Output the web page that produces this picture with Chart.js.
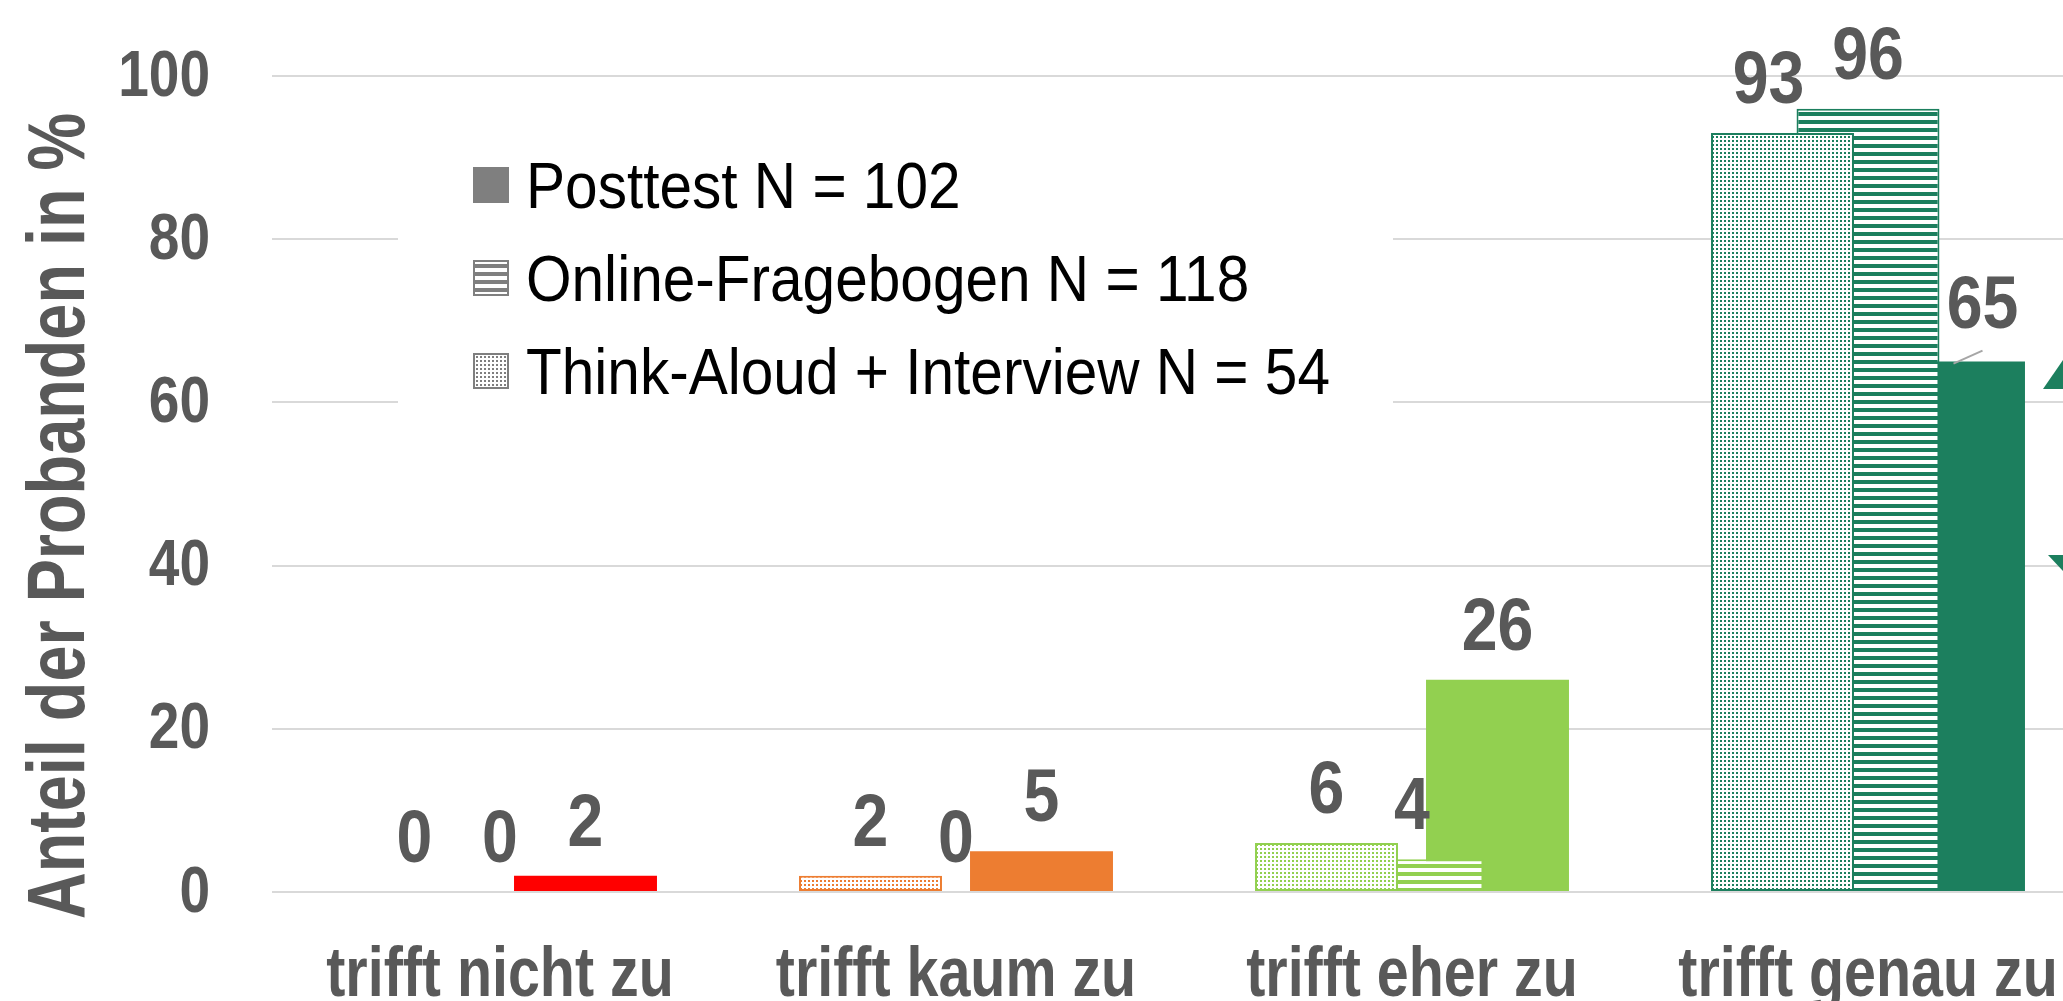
<!DOCTYPE html>
<html>
<head>
<meta charset="utf-8">
<script src="https://cdn.jsdelivr.net/npm/chart.js@4.4.0/dist/chart.umd.min.js"></script>
<style>
  html, body { margin: 0; padding: 0; background: #fff; overflow: hidden; }
  #wrap { position: relative; width: 2096px; height: 1001px; }
</style>
</head>
<body>
<div id="wrap"><canvas id="myChart"></canvas></div>
<script>
const categories = ['trifft nicht zu', 'trifft kaum zu', 'trifft eher zu', 'trifft genau zu'];
const seriesLabels = ['Posttest N = 102', 'Online-Fragebogen N = 118', 'Think-Aloud + Interview N = 54'];
const posttest = [2, 5, 26, 65];
const onlineFragebogen = [0, 0, 4, 96];
const thinkAloud = [0, 2, 6, 93];
const categoryColors = ['#FF0000', '#ED7D31', '#92D050', '#1C7F5E'];
const axisTitle = 'Anteil der Probanden in %';

const FONT = '"Liberation Sans", Arial, sans-serif';
const GREY_TEXT = '#595959';

// excel-like fill patterns
function stripes(color) {
  const c = document.createElement('canvas');
  c.width = 8; c.height = 8;
  const g = c.getContext('2d');
  g.fillStyle = '#fff'; g.fillRect(0, 0, 8, 8);
  g.fillStyle = color; g.fillRect(0, 0, 8, 4);
  return g.createPattern(c, 'repeat');
}
function dots(color) {
  const c = document.createElement('canvas');
  c.width = 4; c.height = 4;
  const g = c.getContext('2d');
  g.fillStyle = '#fff'; g.fillRect(0, 0, 4, 4);
  g.fillStyle = color;
  g.fillRect(0, 0, 2, 2);
  return g.createPattern(c, 'repeat');
}

// no narrow font installed, so squeeze the text horizontally
function narrowText(c, txt, x, y, font, sx, align, baseline) {
  c.save();
  c.translate(x, y);
  c.scale(sx, 1);
  c.font = font;
  c.textAlign = align;
  c.textBaseline = baseline;
  c.fillText(txt, 0, 0);
  c.restore();
}

const ctx = document.getElementById('myChart');

const axisText = {
  id: 'axisText',
  afterDraw(chart) {
    const c = chart.ctx;
    const xs = chart.scales.x, ys = chart.scales.y;
    c.save();
    c.fillStyle = GREY_TEXT;
    ys.ticks.forEach(t => {
      narrowText(c, String(t.value), 210, ys.getPixelForValue(t.value) + 2, 'bold 64px ' + FONT, 0.86, 'right', 'middle');
    });
    categories.forEach((lab, i) => {
      narrowText(c, lab, xs.getPixelForTick(i), 996, 'bold 70px ' + FONT, 0.82, 'center', 'alphabetic');
    });
    // y axis title
    c.translate(84, 516);
    c.rotate(-Math.PI / 2);
    narrowText(c, axisTitle, 0, 0, 'bold 82px ' + FONT, 0.79, 'center', 'alphabetic');
    c.restore();
  }
};

const legendBox = {
  id: 'legendBox',
  afterDraw(chart) {
    const c = chart.ctx;
    c.save();
    // white box over the grid
    c.fillStyle = '#fff';
    c.fillRect(398, 120, 995, 320);
    const swatches = ['#7F7F7F', stripes('#7F7F7F'), dots('#7F7F7F')];
    seriesLabels.forEach((txt, i) => {
      const top = 167 + i * 93;
      c.fillStyle = swatches[i];
      c.fillRect(473, top, 36, 36);
      if (i > 0) {
        c.strokeStyle = '#7F7F7F';
        c.lineWidth = 2;
        c.strokeRect(474, top + 1, 34, 34);
      }
      c.fillStyle = '#000';
      narrowText(c, txt, 526, top + 41, '64px ' + FONT, 0.915, 'left', 'alphabetic');
    });
    c.restore();

    // arrow pieces cut at right edge
    c.save();
    c.fillStyle = '#1C7F5E';
    c.beginPath();
    c.moveTo(2043, 389); c.lineTo(2063, 360); c.lineTo(2063, 389); c.closePath();
    c.fill();
    c.beginPath();
    c.moveTo(2048, 555); c.lineTo(2063, 555); c.lineTo(2063, 571); c.closePath();
    c.fill();
    c.restore();
  }
};

const valueLabels = {
  id: 'valueLabels',
  afterDatasetsDraw(chart) {
    const c = chart.ctx;
    c.save();
    c.fillStyle = GREY_TEXT;
    chart.data.datasets.forEach((ds, di) => {
      chart.getDatasetMeta(di).data.forEach((bar, i) => {
        let x = bar.x;
        let y = bar.y - 30;
        if (ds.label === seriesLabels[2] && i === 3) x -= 14;
        if (ds.label === seriesLabels[0] && i === 3) {
          x += 29; y -= 4;
          c.strokeStyle = '#A6A6A6';
          c.lineWidth = 2;
          c.beginPath();
          c.moveTo(bar.x, bar.y + 2);
          c.lineTo(x, y + 23);
          c.stroke();
        }
        narrowText(c, String(ds.data[i]), x, y, 'bold 74px ' + FONT, 0.87, 'center', 'alphabetic');
      });
    });
    c.restore();
  }
};

const myChart = new Chart(ctx, {
  type: 'bar',
  data: {
    labels: categories,
    datasets: [
      {
        label: seriesLabels[2],
        data: thinkAloud,
        order: 0,
        backgroundColor: categoryColors.map(dots),
        borderColor: categoryColors,
        borderWidth: 2,
        borderSkipped: false
      },
      {
        label: seriesLabels[1],
        data: onlineFragebogen,
        order: 1,
        backgroundColor: categoryColors.map(stripes),
        borderColor: categoryColors,
        borderWidth: 2,
        borderSkipped: false
      },
      {
        label: seriesLabels[0],
        data: posttest,
        order: 2,
        backgroundColor: categoryColors,
        borderWidth: 0
      }
    ]
  },
  options: {
    responsive: true,
    maintainAspectRatio: false,
    animation: false,
    categoryPercentage: 0.5625,
    barPercentage: 1.672,
    layout: { padding: { top: 76, right: 0, bottom: 0, left: 0 } },
    plugins: {
      legend: { display: false },
      tooltip: { enabled: false }
    },
    scales: {
      x: {
        grid: { display: false, drawTicks: false },
        border: { display: false },
        ticks: { display: false, maxRotation: 0, autoSkip: false },
        afterFit: (s) => { s.height = 109; }
      },
      y: {
        min: 0,
        max: 100,
        ticks: { stepSize: 20, display: false },
        grid: { color: '#D9D9D9', lineWidth: 2, drawTicks: false },
        border: { display: false },
        afterFit: (s) => { s.width = 272; }
      }
    }
  },
  plugins: [valueLabels, axisText, legendBox]
});
</script>
</body>
</html>
